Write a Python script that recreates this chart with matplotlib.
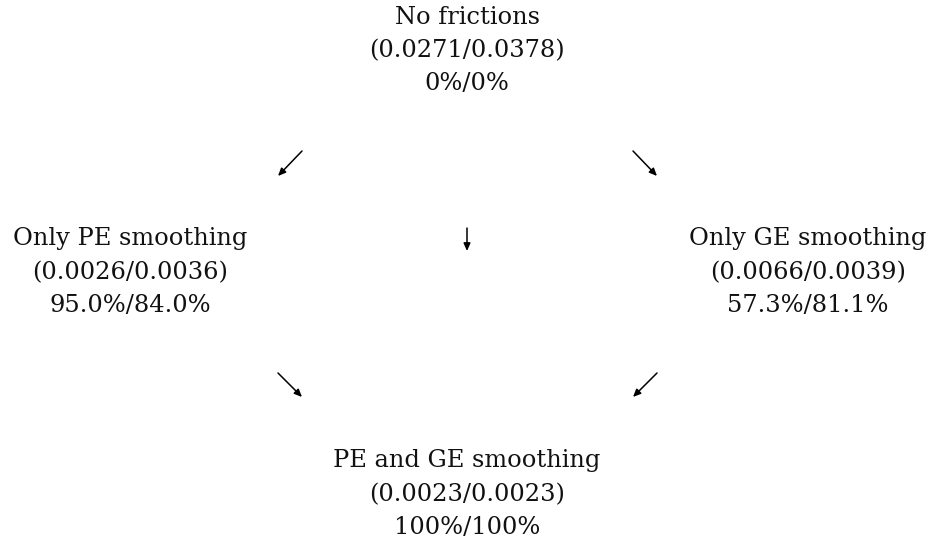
import matplotlib
matplotlib.use("Agg")
import matplotlib.pyplot as plt

# Data
nodes = ["No frictions", "Only PE smoothing", "Only GE smoothing", "PE and GE smoothing"]
val_a = ["0.0271", "0.0026", "0.0066", "0.0023"]
val_b = ["0.0378", "0.0036", "0.0039", "0.0023"]
pct_a = ["0%", "95.0%", "57.3%", "100%"]
pct_b = ["0%", "84.0%", "81.1%", "100%"]

# layout (pixel coordinates)
node_xy = [(467, 17), (130, 239), (808, 239), (467, 461)]
line_gap = 33.5
arrows = [((302, 151), (278, 176)),
          ((633, 151), (657, 176)),
          ((467, 228), (467, 251)),
          ((278, 373), (302, 397)),
          ((657, 373), (633, 397))]

fig = plt.figure(figsize=(9.3, 5.38), dpi=100)
ax = fig.add_axes([0, 0, 1, 1])
ax.set_xlim(0, 930)
ax.set_ylim(538, 0)
ax.axis("off")

font = dict(family="DejaVu Serif", fontsize=17.4, color="#111111", ha="center", va="center")
for i, name in enumerate(nodes):
    x, y = node_xy[i]
    ax.text(x, y, name, **font)
    ax.text(x, y + line_gap, f"({val_a[i]}/{val_b[i]})", **font)
    ax.text(x, y + 2 * line_gap, f"{pct_a[i]}/{pct_b[i]}", **font)

for (x0, y0), (x1, y1) in arrows:
    ax.annotate("", xy=(x1, y1), xytext=(x0, y0),
                arrowprops=dict(arrowstyle="-|>,head_length=0.45,head_width=0.2",
                                lw=1.1, color="black", shrinkA=0, shrinkB=0))

fig.savefig("out.png", dpi=100)
